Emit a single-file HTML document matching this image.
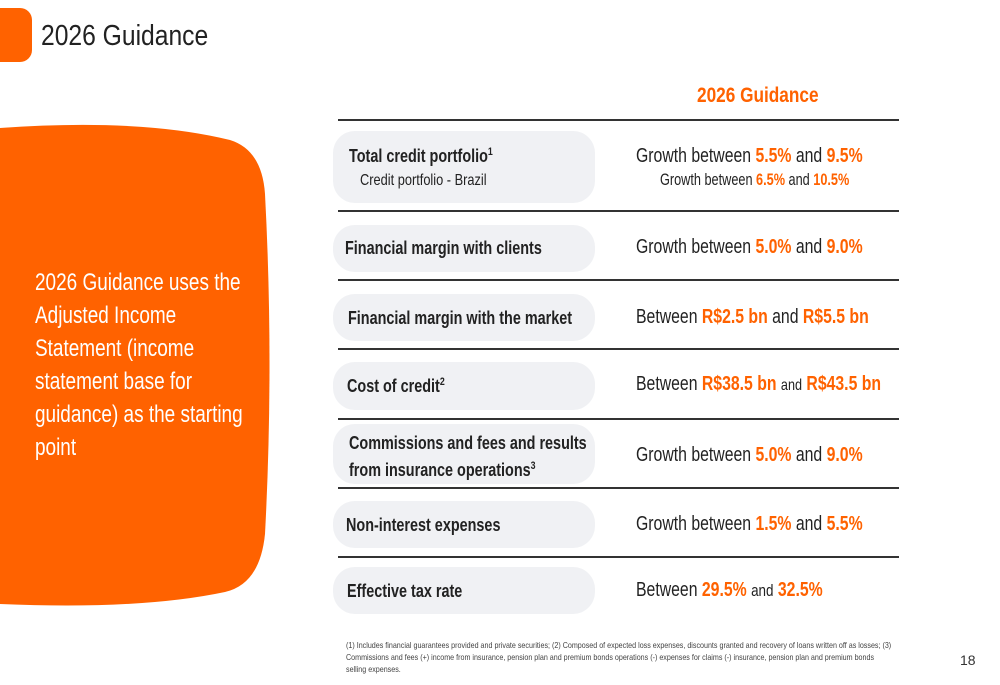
<!DOCTYPE html>
<html><head><meta charset="utf-8"><style>
body{margin:0;width:1000px;height:685px;background:#fff;position:relative;overflow:hidden;font-family:"Liberation Sans",sans-serif;color:#222}
.abs{position:absolute}
.n{transform:scaleX(.8);transform-origin:0 0;white-space:nowrap}
.o{color:#ff6200;font-weight:bold}
.line{position:absolute;left:338px;width:561px;height:2px;background:#333}
.pill{position:absolute;left:333px;width:262px;background:#f0f1f4;border-radius:22px}
.lab{position:absolute;left:347px;font-weight:bold;font-size:18px;color:#222;transform:scaleX(.8);transform-origin:0 0;white-space:nowrap}
.val{position:absolute;left:636px;font-size:20px;color:#222;transform:scaleX(.79);transform-origin:0 0;white-space:nowrap}
</style></head><body>
<div class="abs" style="left:0;top:8px;width:32px;height:54px;background:#ff6200;border-radius:0 12px 12px 0"></div>
<div class="abs n" style="left:41px;top:20px;font-size:29px;transform:scaleX(.85)">2026 Guidance</div>
<svg class="abs" style="left:0;top:124px" width="275" height="484"><path d="M0 4 Q140 -6 230 16 Q262 26 265 70 Q274 240 265 410 Q260 460 225 468 Q140 486 0 480 Z" fill="#ff6200"/></svg>
<div class="abs" style="left:35px;top:266px;width:285px;font-size:24px;line-height:33px;color:#fff;transform:scaleX(.79);transform-origin:0 0">2026 Guidance uses the Adjusted Income Statement (income statement base for guidance) as the starting point</div>
<div class="abs o n" style="left:697px;top:84px;font-size:21px;transform:scaleX(.82)">2026 Guidance</div>
<div class="line" style="top:119px"></div>
<div class="line" style="top:210px"></div>
<div class="line" style="top:279px"></div>
<div class="line" style="top:348px"></div>
<div class="line" style="top:418px"></div>
<div class="line" style="top:487px"></div>
<div class="line" style="top:556px"></div>

<div class="pill" style="top:131px;height:72px"></div>
<div class="lab" style="top:146px;left:349px">Total credit portfolio<sup style="font-size:11px">1</sup></div>
<div class="abs n" style="left:360px;top:172px;font-size:16px">Credit portfolio - Brazil</div>
<div class="val" style="top:145px">Growth between <span class="o">5.5%</span> and <span class="o">9.5%</span></div>
<div class="val" style="left:660px;top:171px;font-size:16.5px;transform:scaleX(.77)">Growth between <span class="o">6.5%</span> and <span class="o">10.5%</span></div>

<div class="pill" style="top:225px;height:47px"></div>
<div class="lab" style="top:238px;left:345px">Financial margin with clients</div>
<div class="val" style="top:236px">Growth between <span class="o">5.0%</span> and <span class="o">9.0%</span></div>

<div class="pill" style="top:294px;height:47px"></div>
<div class="lab" style="top:308px;left:348px">Financial margin with the market</div>
<div class="val" style="top:306px">Between <span class="o">R$2.5 bn</span> and <span class="o">R$5.5 bn</span></div>

<div class="pill" style="top:362px;height:48px"></div>
<div class="lab" style="top:376px">Cost of credit<sup style="font-size:11px">2</sup></div>
<div class="val" style="top:373px">Between <span class="o">R$38.5 bn</span> <span style="font-size:16px">and</span> <span class="o">R$43.5 bn</span></div>

<div class="pill" style="top:424px;height:60px"></div>
<div class="lab" style="top:432px;left:349px;line-height:23px">Commissions and fees and results<br>from insurance operations<sup style="font-size:11px">3</sup></div>
<div class="val" style="top:444px">Growth between <span class="o">5.0%</span> and <span class="o">9.0%</span></div>

<div class="pill" style="top:501px;height:47px"></div>
<div class="lab" style="top:515px;left:346px">Non-interest expenses</div>
<div class="val" style="top:513px">Growth between <span class="o">1.5%</span> and <span class="o">5.5%</span></div>

<div class="pill" style="top:567px;height:47px"></div>
<div class="lab" style="top:581px">Effective tax rate</div>
<div class="val" style="top:579px">Between <span class="o">29.5%</span> <span style="font-size:17px">and</span> <span class="o">32.5%</span></div>

<div class="abs" style="left:346px;top:639px;width:650px;font-size:8.5px;line-height:12px;color:#444;transform:scaleX(.84);transform-origin:0 0">(1) Includes financial guarantees provided and private securities; (2) Composed of expected loss expenses, discounts granted and recovery of loans written off as losses; (3) Commissions and fees (+) income from insurance, pension plan and premium bonds operations (-) expenses for claims (-) insurance, pension plan and premium bonds selling expenses.</div>
<div class="abs" style="left:960px;top:652px;font-size:14px;color:#333">18</div>
</body></html>
